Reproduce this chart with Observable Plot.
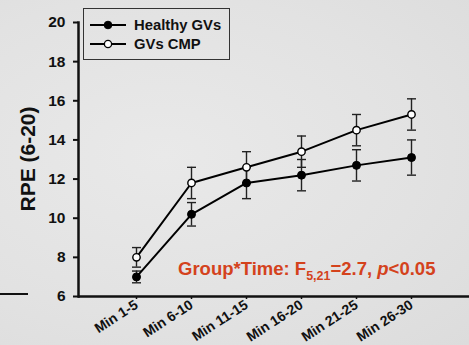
<!DOCTYPE html>
<html>
<head>
<meta charset="utf-8">
<script src="https://cdn.jsdelivr.net/npm/d3@7"></script>
<script src="https://cdn.jsdelivr.net/npm/@observablehq/plot@0.6"></script>
<style>
  html, body { margin: 0; padding: 0; }
  body { width: 469px; height: 345px; overflow: hidden; background: #e3e3e3;
         font-family: "Liberation Sans", Arial, sans-serif; }
  #wrap { position: relative; width: 469px; height: 345px;
          background: radial-gradient(ellipse at 35% 45%, #e9e9e9 0%, #e2e2e2 60%, #dcdcdc 100%); }
  #legend { position: absolute; left: 83px; top: 8px; width: 147px; height: 52px;
            border: 1px solid #333; box-sizing: border-box; background: transparent; }
  .lrow { position: absolute; left: 6px; height: 18px; display: flex; align-items: center;
          font-weight: bold; font-size: 14.8px; color: #111; }
  .lrow svg { margin-right: 8px; }
  #annot { position: absolute; left: 178px; top: 258px; font-weight: bold; font-size: 18.5px;
           color: #d4421c; white-space: nowrap; }
  #annot sub { font-size: 12.5px; vertical-align: -5px; }
  #deco { position: absolute; left: 0; top: 293px; width: 28px; height: 2px; background: #111; }
  #ylabel { position: absolute; left: 28px; top: 159px; transform: translate(-50%, -50%) rotate(-90deg);
            font-weight: bold; font-size: 21px; color: #111; white-space: nowrap; }
  #chart svg text { font-weight: bold; }
</style>
</head>
<body>
<div id="wrap">
  <div id="chart"></div>
  <div id="deco"></div>
  <div id="ylabel">RPE (6-20)</div>
  <div id="legend">
    <div class="lrow" style="top:7px"><svg width="36" height="10"><line x1="0" y1="5" x2="36" y2="5" stroke="#000" stroke-width="2"/><circle cx="18" cy="5" r="3.8" fill="#000" stroke="#000"/></svg>Healthy GVs</div>
    <div class="lrow" style="top:26px"><svg width="36" height="10"><line x1="0" y1="5" x2="36" y2="5" stroke="#000" stroke-width="2"/><circle cx="18" cy="5" r="3.6" fill="#fff" stroke="#000" stroke-width="1.3"/></svg>GVs CMP</div>
  </div>
  <div id="annot">Group*Time: F<sub>5,21</sub>=2.7, <i>p</i>&lt;0.05</div>
</div>
<script>
const periods = ["Min 1-5", "Min 6-10", "Min 11-15", "Min 16-20", "Min 21-25", "Min 26-30"];
const healthyMean = [7.0, 10.2, 11.8, 12.2, 12.7, 13.1];
const healthyErr  = [0.3, 0.6, 0.8, 0.8, 0.8, 0.9];
const cmpMean     = [8.0, 11.8, 12.6, 13.4, 14.5, 15.3];
const cmpErr      = [0.5, 0.8, 0.8, 0.8, 0.8, 0.8];
const yTicks = [6, 8, 10, 12, 14, 16, 18, 20];

const rows = [];
periods.forEach((p, i) => {
  rows.push({period: p, group: "Healthy GVs", mean: healthyMean[i], err: healthyErr[i]});
  rows.push({period: p, group: "GVs CMP", mean: cmpMean[i], err: cmpErr[i]});
});
const healthy = rows.filter(d => d.group === "Healthy GVs");
const cmp = rows.filter(d => d.group === "GVs CMP");

const capSymbol = { draw(ctx) { ctx.moveTo(-4.5, 0); ctx.lineTo(4.5, 0); } };

const chart = Plot.plot({
  width: 469,
  height: 345,
  marginLeft: 78,
  marginRight: 0,
  marginTop: 22,
  marginBottom: 49,
  style: { background: "transparent", fontFamily: "Liberation Sans, Arial, sans-serif", color: "#111" },
  x: { type: "point", domain: periods, padding: 1, label: null },
  y: { domain: [6, 20], label: null },
  marks: [
    Plot.axisY({ ticks: yTicks, tickSize: 5, tickPadding: 8, strokeWidth: 2, fontSize: 15.5, fontWeight: "bold" }),
    Plot.axisX({ tickSize: 3, tickRotate: -33, textAnchor: "end", tickPadding: 4, strokeWidth: 1.5, fontSize: 14, fontWeight: "bold" }),
    Plot.frame({ anchor: "left", strokeWidth: 2.5 }),
    Plot.ruleY([6], { strokeWidth: 2.5 }),
    Plot.ruleX(rows, { x: "period", y1: d => d.mean - d.err, y2: d => d.mean + d.err, stroke: "#222", strokeWidth: 1.4 }),
    Plot.dot(rows, { x: "period", y: d => d.mean + d.err, symbol: capSymbol, stroke: "#222", strokeWidth: 1.4, r: 4 }),
    Plot.dot(rows, { x: "period", y: d => d.mean - d.err, symbol: capSymbol, stroke: "#222", strokeWidth: 1.4, r: 4 }),
    Plot.line(healthy, { x: "period", y: "mean", stroke: "#000", strokeWidth: 2 }),
    Plot.line(cmp, { x: "period", y: "mean", stroke: "#000", strokeWidth: 2 }),
    Plot.dot(healthy, { x: "period", y: "mean", r: 4, fill: "#000", stroke: "#000", strokeWidth: 1 }),
    Plot.dot(cmp, { x: "period", y: "mean", r: 3.7, fill: "#fff", stroke: "#000", strokeWidth: 1.4 })
  ]
});
document.getElementById("chart").appendChild(chart);
</script>
</body>
</html>
